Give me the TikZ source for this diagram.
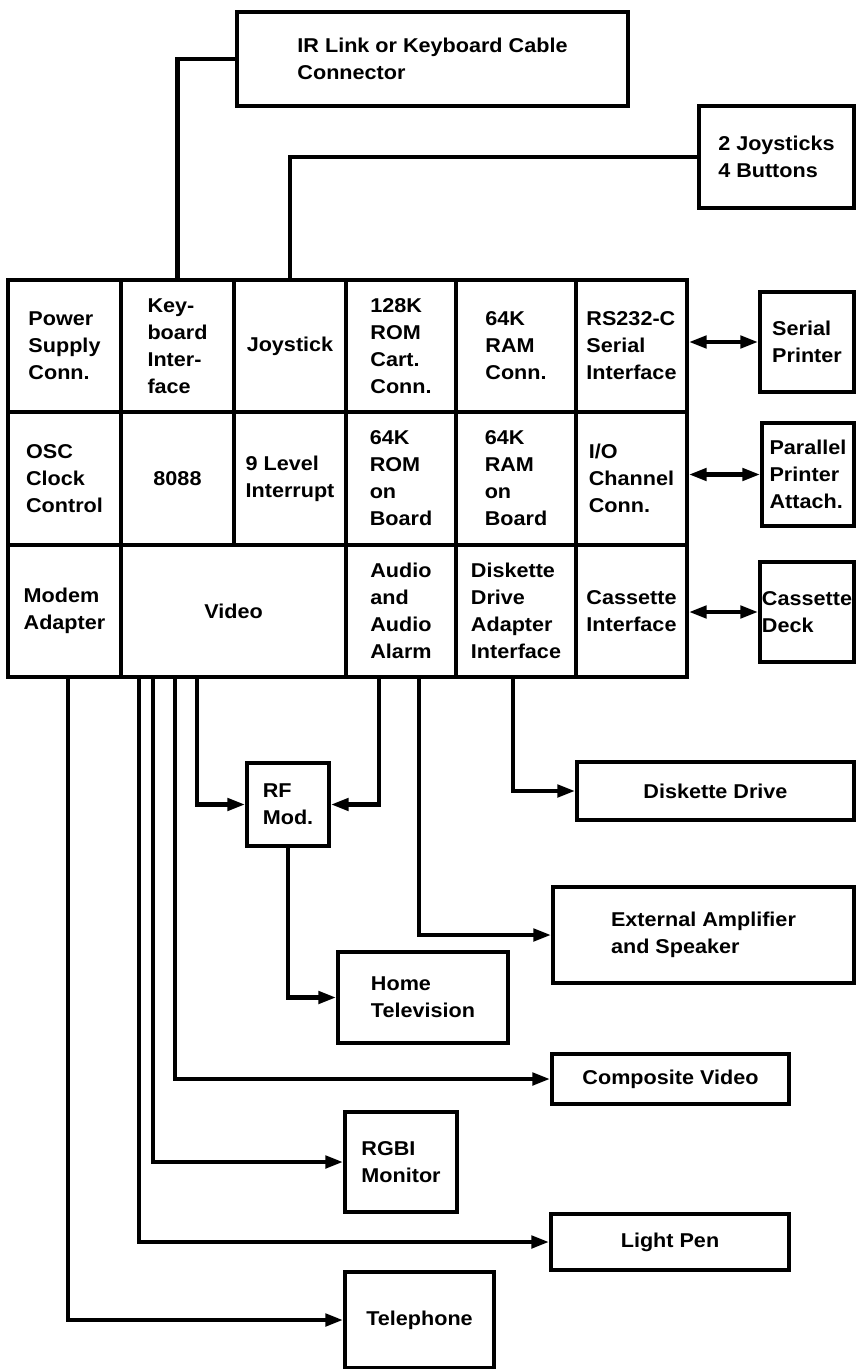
\documentclass[tikz,border=0pt]{standalone}
\usepackage{fontspec}
\setmainfont{Liberation Sans}[FakeStretch=1.08]
\usetikzlibrary{arrows.meta}
\begin{document}
\begin{tikzpicture}[x=1pt,y=-1pt,
  box/.style={draw, line width=3.3pt, inner sep=0pt, align=left,
    font=\bfseries\fontsize{20}{27}\selectfont},
  conn/.style={line width=4.5pt},
  arr/.style={conn, -{Triangle[length=18pt,width=12pt]}},
  dbl/.style={conn, {Triangle[length=18pt,width=12pt]}-{Triangle[length=18pt,width=12pt]}}]
\useasboundingbox (0,0) rectangle (856,1369);
% grid row 1
\node[box, minimum width=113pt, minimum height=132pt] (ps)   at (64.5,346) {Power\\Supply\\Conn.};
\node[box, minimum width=113pt, minimum height=132pt] (kb)   at (177.5,346) {Key-\\board\\Inter-\\face};
\node[box, minimum width=112pt, minimum height=132pt] (js)   at (290,346) {Joystick};
\node[box, minimum width=110pt, minimum height=132pt] (rom)  at (401,346) {128K\\ROM\\Cart.\\Conn.};
\node[box, minimum width=120pt, minimum height=132pt] (ramc) at (516,346) {64K\\RAM\\Conn.};
\node[box, minimum width=111pt, minimum height=132pt] (rs)   at (631.5,346) {RS232-C\\Serial\\Interface};
% grid row 2
\node[box, minimum width=113pt, minimum height=133pt] (osc)  at (64.5,478.5) {OSC\\Clock\\Control};
\node[box, minimum width=113pt, minimum height=133pt] (cpu)  at (177.5,478.5) {8088};
\node[box, minimum width=112pt, minimum height=133pt] (irq)  at (290,478.5) {9 Level\\Interrupt};
\node[box, minimum width=110pt, minimum height=133pt] (romb) at (401,478.5) {64K\\ROM\\on\\Board};
\node[box, minimum width=120pt, minimum height=133pt] (ramb) at (516,478.5) {64K\\RAM\\on\\Board};
\node[box, minimum width=111pt, minimum height=133pt] (io)   at (631.5,478.5) {I/O\\Channel\\Conn.};
% grid row 3
\node[box, minimum width=113pt, minimum height=132pt] (modem) at (64.5,611) {Modem\\Adapter};
\node[box, minimum width=225pt, minimum height=132pt] (video) at (233.5,611) {Video};
\node[box, minimum width=110pt, minimum height=132pt] (audio) at (401,611) {Audio\\and\\Audio\\Alarm};
\node[box, minimum width=120pt, minimum height=132pt] (disk)  at (516,611) {Diskette\\Drive\\Adapter\\Interface};
\node[box, minimum width=111pt, minimum height=132pt] (cass)  at (631.5,611) {Cassette\\Interface};
% right boxes
\node[box, minimum width=94pt, minimum height=100pt] (ser) at (807,342) {Serial\\Printer};
\node[box, minimum width=92pt, minimum height=103pt] (par) at (808,474.5) {Parallel\\Printer\\Attach.};
\node[box, minimum width=94pt, minimum height=100pt] (cd)  at (807,612) {Cassette\\Deck};
% top boxes
\node[box, minimum width=391pt, minimum height=94pt] (ir)  at (432.5,59) {IR Link or Keyboard Cable\\Connector};
\node[box, minimum width=155pt, minimum height=102pt] (joy) at (776.5,157) {2 Joysticks\\4 Buttons};
% bottom boxes
\node[box, minimum width=82pt,  minimum height=83pt] (rf)   at (288,804.5) {RF\\Mod.};
\node[box, minimum width=277pt, minimum height=58pt] (dd)   at (715.5,791) {Diskette Drive};
\node[box, minimum width=301pt, minimum height=96pt] (amp)  at (703.5,935) {External Amplifier\\and Speaker};
\node[box, minimum width=170pt, minimum height=91pt] (tv)   at (423,997.5) {Home\\Television};
\node[box, minimum width=237pt, minimum height=50pt] (cv)   at (670.5,1079) {Composite Video};
\node[box, minimum width=112pt, minimum height=100pt] (rgbi) at (401,1162) {RGBI\\Monitor};
\node[box, minimum width=238pt, minimum height=56pt] (lp)   at (670,1242) {Light Pen};
\node[box, minimum width=149pt, minimum height=96pt] (tel)  at (419.5,1320) {Telephone};
% connector start points on grid bottom
\coordinate (m1) at (68,677);
\coordinate (v1) at (139,677);
\coordinate (v2) at (153,677);
\coordinate (v3) at (175,677);
\coordinate (v4) at (197,677);
\coordinate (a1) at (379,677);
\coordinate (a2) at (419,677);
\coordinate (d1) at (513,677);
% top connectors
\draw[conn] (kb.north) |- (ir.west);
\draw[conn] (js.north) |- (joy.west);
% right double arrows
\draw[dbl] (rs.east |- ser.west) -- (ser.west);
\draw[dbl] (io.east |- par.west) -- (par.west);
\draw[dbl] (cass.east |- cd.west) -- (cd.west);
% bottom connectors
\draw[arr] (v4) |- (rf.west);
\draw[arr] (a1) |- (rf.east);
\draw[arr] (d1) |- (dd.west);
\draw[arr] (a2) |- (amp.west);
\draw[arr] (rf.south) |- (tv.west);
\draw[arr] (v3) |- (cv.west);
\draw[arr] (v2) |- (rgbi.west);
\draw[arr] (v1) |- (lp.west);
\draw[arr] (m1) |- (tel.west);
\end{tikzpicture}
\end{document}
